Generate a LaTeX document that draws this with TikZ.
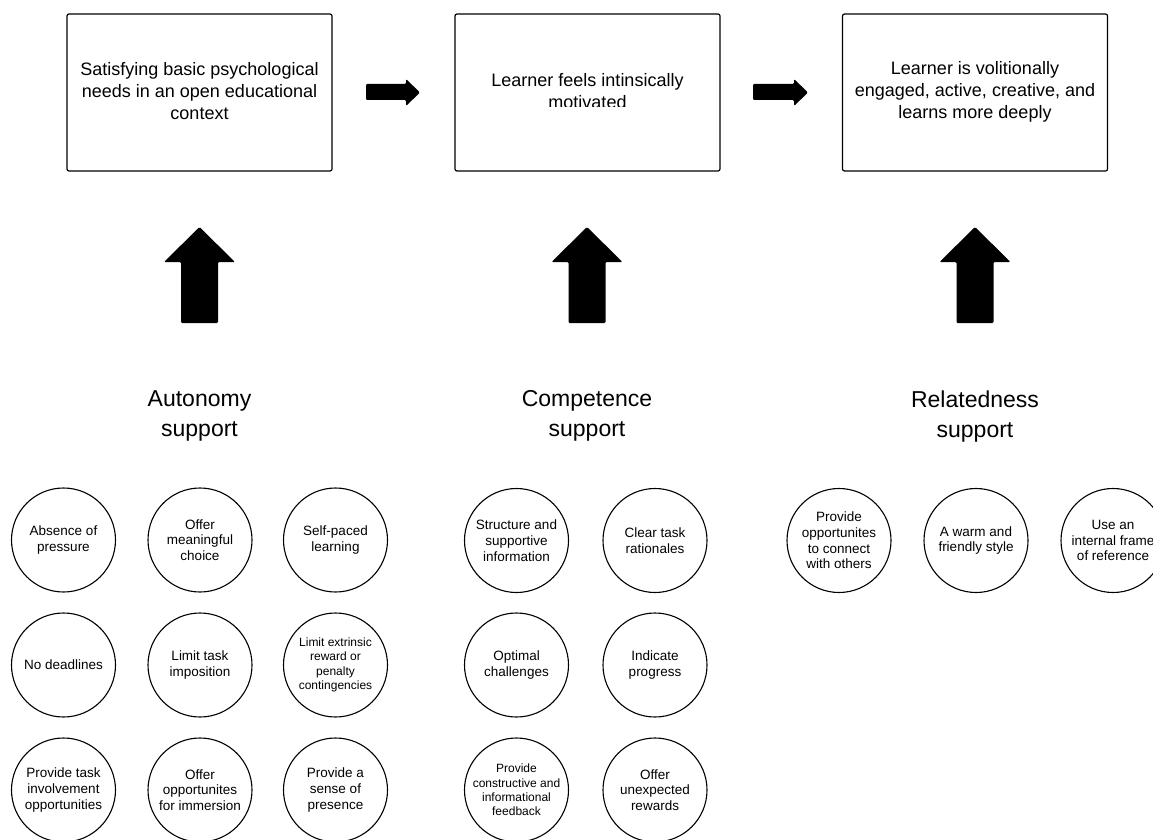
\documentclass[tikz,border=0pt]{standalone}
\usepackage{fontspec}
\setmainfont{Liberation Sans}
\begin{document}
\begin{tikzpicture}[x=1pt,y=-1pt,
  box/.style={draw, line width=1.2pt, rounded corners=2pt, minimum width=265pt, minimum height=157pt, inner sep=0pt},
  boxtext/.style={align=center, anchor=north, font=\fontsize{18}{22}\selectfont, inner sep=0pt},
  grp/.style={align=center, anchor=north, font=\fontsize{23}{30}\selectfont, inner sep=0pt},
  need/.style={circle, draw, line width=1.1pt, minimum size=104pt, inner sep=0pt, align=center, font=\fontsize{13.5}{15.7}\selectfont},
  smalltxt/.style={font=\fontsize{12}{14.4}\selectfont},
  blk/.style={fill=black, rounded corners=1.2pt}]
\useasboundingbox (0,0) rectangle (1153,840);
\clip (0,0) rectangle (1153,840);

% top boxes
\node[box] (b1) at (199.5,92.5) {};
\node[box] (b2) at (587.5,92.5) {};
\node[box] (b3) at (975,92.5) {};
\node[boxtext] (t1) at (199.5,62) {Satisfying basic psychological\\needs in an open educational\\context};
\begin{scope}
  \clip (455,14) rectangle (720,106.5);
  \node[boxtext] (t2) at (587.5,73) {Learner feels intinsically\\motivated};
\end{scope}
\node[boxtext] (t3) at (975,61) {Learner is volitionally\\engaged, active, creative, and\\learns more deeply};

% right block arrows
\fill[blk] (366,84) -- (406,84) -- (406,79) -- (420,92.5) -- (406,106) -- (406,100) -- (366,100) -- cycle;
\fill[blk] (753,84) -- (794,84) -- (794,79) -- (808,92.5) -- (794,106) -- (794,100) -- (753,100) -- cycle;

% up block arrows
\foreach \cx in {199.5,587,975} {
  \fill[blk] (\cx-18.5,323) -- (\cx-18.5,262) -- (\cx-35.5,262) -- (\cx,227) -- (\cx+35.5,262) -- (\cx+18.5,262) -- (\cx+18.5,323) -- cycle;
}

% group labels
\node[grp] (ga) at (199.5,390.5) {Autonomy\\support};
\node[grp] (gc) at (587,390.5) {Competence\\support};
\node[grp] (gr) at (975,390.5) {Relatedness\\support};

% autonomy circles
\node[need] (a11) at (63.5,540) {Absence of\\pressure};
\node[need] (a12) at (200,540) {Offer\\meaningful\\choice};
\node[need] (a13) at (335.5,540) {Self-paced\\learning};
\node[need] (a21) at (63.5,665) {No deadlines};
\node[need] (a22) at (200,665) {Limit task\\imposition};
\node[need,smalltxt] (a23) at (335.5,665) {Limit extrinsic\\reward or\\penalty\\contingencies};
\node[need] (a31) at (63.5,790) {Provide task\\involvement\\opportunities};
\node[need] (a32) at (200,790) {Offer\\opportunites\\for immersion};
\node[need] (a33) at (335.5,790) {Provide a\\sense of\\presence};

% competence circles
\node[need] (c11) at (516.5,540.5) {Structure and\\supportive\\information};
\node[need] (c12) at (655,540.5) {Clear task\\rationales};
\node[need] (c21) at (516.5,665) {Optimal\\challenges};
\node[need] (c22) at (655,665) {Indicate\\progress};
\node[need,smalltxt] (c31) at (516.5,790) {Provide\\constructive and\\informational\\feedback};
\node[need] (c32) at (655,790) {Offer\\unexpected\\rewards};

% relatedness circles
\node[need] (r1) at (839,540.5) {Provide\\opportunites\\to connect\\with others};
\node[need] (r2) at (976,540.5) {A warm and\\friendly style};
\node[need] (r3) at (1113,540.5) {Use an\\internal frame\\of reference};
\end{tikzpicture}
\end{document}
